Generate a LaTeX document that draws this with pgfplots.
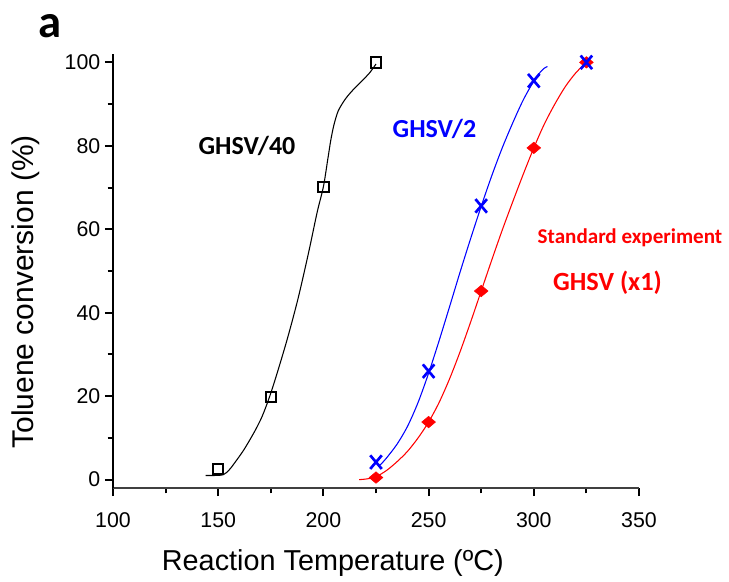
\documentclass[border=0pt]{standalone}
\usepackage{pgfplots}
\pgfplotsset{compat=1.18}
\usepackage{fontspec}
\setmainfont{Liberation Sans}
\newfontfamily\calfont{Carlito}
\definecolor{myblue}{RGB}{0,0,255}
\definecolor{myred}{RGB}{255,0,0}
\begin{document}
\begin{tikzpicture}
\path[use as bounding box] (0,0) rectangle (546.75pt,436.5pt);
\begin{axis}[
  at={(84.75pt,70.5pt)}, anchor=south west,
  scale only axis, width=394.5pt, height=325.5pt,
  xmin=100, xmax=350, ymin=-2, ymax=102,
  axis x line*=bottom, axis y line*=left,
  xtick={100,150,...,350}, ytick={0,20,...,100},
  minor x tick num=1, minor y tick num=1,
  tick align=outside,
  major tick length=6pt, minor tick length=4pt,
  every tick/.style={black, line width=1.5pt},
  x axis line style={line width=1.1pt, color=black!75, -},
  y axis line style={line width=2.2pt, -},
  tick label style={font=\fontsize{16}{18}\selectfont},
  xticklabel style={yshift=-9pt},
  /pgf/number format/assume math mode=true,
  xlabel={Reaction Temperature (ºC)},
  ylabel={Toluene conversion (\%)},
  xlabel style={font=\fontsize{21.6}{24}\selectfont, at={(axis description cs:0.418,-0.173)}, anchor=center},
  ylabel style={font=\fontsize{22.5}{24}\selectfont, at={(axis description cs:-0.165,0.452)}, anchor=center},
  clip=false,
]
% fitted curves
\addplot[black, line width=0.8pt, smooth] coordinates {
(144,1) (148,1) (152.5,1.2) (155.5,2.5) (158.8,4.7) (162,7) (165,9.5) (168,12.2) (171,15.3) (174.3,19.7) (178,25.5) (183,34) (188,43.5) (193,54.5) (197,64) (200,70.2) (202,76.5) (203.5,81.3) (205,85) (207,88.3) (210,90.9) (213,92.8) (216,94.4) (219,95.9) (222,97.5) (225,99.6)};
\addplot[myblue, line width=0.8pt, smooth] coordinates {
(227,3.5) (230,5.2) (235,8.5) (240,12.8) (245,18.5) (250,25.5) (255,33.3) (260,41.5) (265,49.8) (270,57.8) (275,65.5) (280,72.8) (285,79.5) (290,85.5) (295,91) (300,95.5) (303,97.6) (305,98.6) (306.5,99)};
\addplot[myred, line width=0.8pt, smooth] coordinates {
(217,0) (221,0.2) (225,0.7) (230,2.2) (235,4.3) (240,6.8) (245,10) (250,13.8) (255,18.5) (260,24.2) (265,30.7) (270,37.8) (275,45.2) (280,52.6) (285,59.8) (290,66.6) (295,73.2) (300,79.5) (305,85.2) (310,90) (315,94.2) (320,97.5) (325,100)};
% data points
\addplot[only marks, mark=square, mark size=3.9pt, mark options={black, line width=1.5pt, fill=none}] coordinates {
(150,2.5) (175,19.8) (200,70.1) (225,100)};
\addplot[only marks, mark=diamond*, mark size=4.3pt, mark options={myred, fill=myred, xscale=1.6}] coordinates {
(225,0.5) (250,13.8) (275,45.2) (300,79.5) (325,100)};
\addplot[only marks, mark=x, mark size=7.2pt, mark options={myblue, line width=2pt, xscale=0.85}] coordinates {
(225,4.2) (250,26) (275,65.6) (300,95.6) (325,100)};
% annotations
\node[font=\calfont\bfseries\fontsize{35}{40}\selectfont, anchor=center] at (axis cs:70,108.7) {a};
\node[font=\calfont\bfseries\fontsize{19.5}{22}\selectfont, anchor=base] at (axis cs:163.7,78.0) {GHSV/40};
\node[font=\calfont\bfseries\fontsize{19.5}{22}\selectfont, anchor=base, text=myblue] at (axis cs:252.8,81.9) {GHSV/2};
\node[font=\calfont\bfseries\fontsize{15.8}{18}\selectfont, anchor=base, text=myred] at (axis cs:345.7,56.7) {Standard experiment};
\node[font=\calfont\bfseries\fontsize{19.7}{22}\selectfont, anchor=base, text=myred] at (axis cs:335.0,45.4) {GHSV (x1)};
\end{axis}
\end{tikzpicture}
\end{document}
